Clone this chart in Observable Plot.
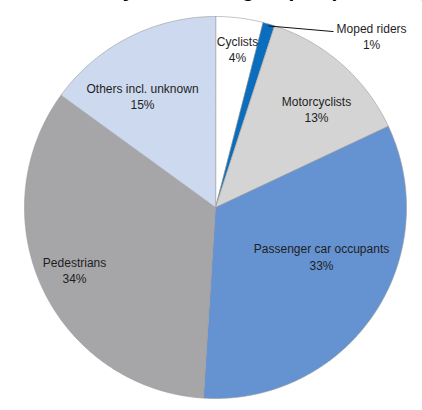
<!DOCTYPE html>
<html>
<head>
<meta charset="utf-8">
<script src="https://cdn.jsdelivr.net/npm/d3@7"></script>
<script src="https://cdn.jsdelivr.net/npm/@observablehq/plot@0.6"></script>
<style>
  html, body { margin: 0; padding: 0; background: #ffffff; }
  #chart svg { display: block; }
</style>
</head>
<body>
<div id="chart"></div>
<script>
// ---- data ----
const categories = ["Cyclists", "Moped riders", "Motorcyclists", "Passenger car occupants", "Pedestrians", "Others incl. unknown"];
const shares = [4, 1, 13, 33, 34, 15];
const percentLabels = ["4%", "1%", "13%", "33%", "34%", "15%"];
const sliceColors = ["#ffffff", "#0a6dbd", "#d4d4d4", "#6593d1", "#a6a6a9", "#cdd9ee"];
const titleText = "Fatalities by road user group in percentage";

// ---- layout (label anchors in unit-circle coordinates) ----
const labelAnchors = [[0.115, -0.832], [0.817, -0.90], [0.529, -0.518], [0.555, 0.254], [-0.738, 0.325], [-0.382, -0.586]];
const outsideLabel = [false, true, false, false, false, false];
const leaderEnd = [0.618, -0.921];

const data = categories.map((c, i) => ({name: c, share: shares[i], pct: percentLabels[i], color: sliceColors[i]}));
const arcs = d3.pie().sort(null).value(d => d.share)(data);

const pt = (a, r) => [r * Math.sin(a), -r * Math.cos(a)];
const slices = arcs.map(a => {
  const n = Math.max(4, Math.ceil((a.endAngle - a.startAngle) / 0.01));
  const ring = [[0, 0]];
  for (let k = 0; k <= n; ++k) ring.push(pt(a.startAngle + (a.endAngle - a.startAngle) * k / n, 1));
  ring.push([0, 0]);
  return {type: "Feature", properties: a.data, geometry: {type: "Polygon", coordinates: [ring]}};
});

const labels = data.map((d, i) => ({x: labelAnchors[i][0], y: labelAnchors[i][1], text: d.name + "\n" + d.pct}));

const leaders = arcs.filter((a, i) => outsideLabel[i]).map(a => {
  const [x1, y1] = pt((a.startAngle + a.endAngle) / 2, 0.99);
  return {x1, y1, x2: leaderEnd[0], y2: leaderEnd[1]};
});

const chart = Plot.plot({
  width: 422,
  height: 410,
  marginLeft: 24,
  marginRight: 16,
  marginTop: 16,
  marginBottom: 12,
  style: {fontFamily: "'Liberation Sans', Arial, sans-serif", background: "#ffffff"},
  projection: {type: "identity", domain: {type: "MultiPoint", coordinates: [[-1, -1], [1, 1]]}, clip: false},
  color: {type: "identity"},
  marks: [
    Plot.geo(slices, {fill: d => d.properties.color, stroke: "#9a9a9a", strokeWidth: 0.6}),
    Plot.link(leaders, {x1: "x1", y1: "y1", x2: "x2", y2: "y2", stroke: "#111", strokeWidth: 1}),
    Plot.text(labels, {x: "x", y: "y", text: "text", fontSize: 12, lineHeight: 1.375, fill: "#1e1e1e", textAnchor: "middle", lineAnchor: "middle"}),
    Plot.text([titleText], {frameAnchor: "top-left", dx: -11.5, dy: -19.5, lineAnchor: "bottom", textAnchor: "start", fontSize: 21, fontWeight: "bold", fill: "#000"})
  ]
});
document.getElementById("chart").appendChild(chart);
</script>
</body>
</html>
